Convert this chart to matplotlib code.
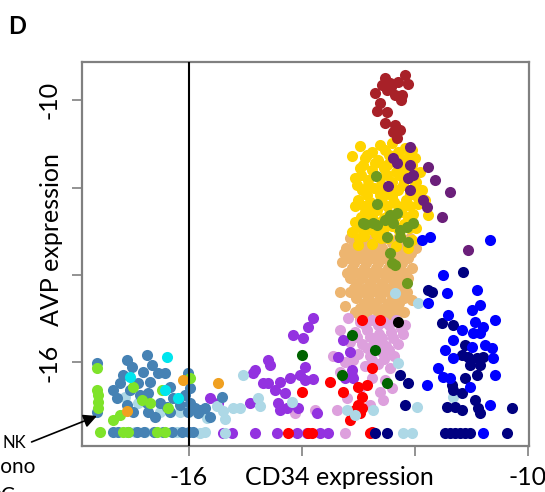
import matplotlib
matplotlib.use("Agg")
import matplotlib.pyplot as plt

plt.rcParams['font.family'] = ['Lato', 'DejaVu Sans']

# CD34 (x) and AVP (y) expression per cell, grouped by population colour
darkred_x = [-12.53, -12.44, -12.30, -12.18, -12.12, -12.50, -12.71, -12.35, -12.23, -12.62,
             -12.67, -12.50, -12.53, -12.35, -12.27, -12.32, -12.39, -12.42, -12.58, -12.25]
darkred_y = [-9.50, -9.61, -9.59, -9.43, -9.63, -9.77, -9.84, -9.89, -9.89, -10.07,
             -10.25, -10.27, -10.53, -10.57, -10.69, -10.87, -10.73, -9.70, -9.65, -10.00]

darkpurple_x = [-12.09, -12.39, -12.32, -12.09, -11.77, -12.04, -12.12, -11.65, -12.48, -12.09,
                -11.38, -11.86, -11.79, -11.52, -11.06]
darkpurple_y = [-11.07, -11.33, -11.44, -11.49, -11.53, -11.71, -11.78, -11.83, -11.97, -12.06,
                -12.10, -12.29, -12.45, -12.67, -13.43]

gold_x = [-12.62, -12.41, -12.18, -12.76, -12.53, -12.30, -12.05, -12.88, -12.65, -12.44, -12.23, -12.00,
          -12.97, -12.76, -12.55, -12.34, -12.12, -11.91,
          -13.06, -12.83, -12.62, -12.41, -12.19, -11.98,
          -12.94, -12.73, -12.51, -12.30, -12.09, -11.88,
          -13.01, -12.80, -12.58, -12.37, -12.16, -11.95,
          -12.88, -12.67, -12.46, -12.25, -12.04,
          -13.06, -12.83, -12.62, -12.41, -12.19, -11.98,
          -13.12, -12.90, -12.69, -12.48, -12.27, -12.05,
          -13.01, -12.76, -12.34, -12.12,
          -13.12, -12.97, -11.82, -11.77,
          -12.45, -12.70, -12.20, -12.60, -12.40, -12.75, -12.20, -12.55, -12.30, -12.80,
          -12.85, -12.30, -12.10,
          -12.92, -12.50, -12.05,
          -12.95, -12.72, -12.50, -12.28, -12.05,
          -13.02, -12.82, -12.20, -12.00,
          -12.85, -12.62, -12.40, -12.00,
          -13.05, -12.90, -12.50, -12.30, -12.08,
          -12.95, -12.75, -12.35, -12.12,
          -12.95, -12.55, -12.10,
          -12.98, -12.60]
gold_y = [-11.03, -10.98, -11.10, -11.19, -11.14, -11.19, -11.14, -11.33, -11.37, -11.42, -11.37, -11.33,
          -11.55, -11.60, -11.55, -11.65, -11.60, -11.65,
          -11.78, -11.83, -11.78, -11.87, -11.83, -11.87,
          -12.06, -12.01, -12.10, -12.06, -12.15, -12.06,
          -12.29, -12.33, -12.24, -12.33, -12.29, -12.38,
          -12.56, -12.51, -12.61, -12.56, -12.61,
          -12.79, -12.83, -12.79, -12.88, -12.83, -12.93,
          -13.02, -13.11, -13.06, -13.15, -13.11, -13.20,
          -13.31, -13.29, -13.34, -13.38,
          -11.28, -11.05, -12.29, -12.63,
          -11.25, -11.45, -11.50, -11.95, -12.20, -12.45, -12.45, -12.70, -12.95, -12.95,
          -11.25, -11.25, -11.25,
          -11.48, -11.48, -11.48,
          -11.72, -11.72, -11.72, -11.72, -11.72,
          -11.95, -11.95, -11.95, -11.95,
          -12.18, -12.18, -12.18, -12.18,
          -12.42, -12.42, -12.42, -12.42, -12.42,
          -12.68, -12.68, -12.68, -12.68,
          -12.92, -12.92, -12.92,
          -13.15, -13.15]

olive_x = [-12.69, -12.67, -12.88, -12.67, -12.53, -12.41, -12.32, -12.39, -12.14, -12.04, -12.27,
           -12.44, -12.92, -12.74, -12.44, -12.27, -12.50, -12.12, -12.41, -12.14, -12.35]
olive_y = [-11.74, -12.38, -12.83, -12.86, -12.74, -12.67, -12.58, -12.81, -12.90, -12.81, -13.13,
           -13.50, -12.81, -12.81, -12.63, -12.97, -13.13, -13.25, -13.73, -14.18, -13.77]

tan_x = [-13.15, -12.94, -12.73, -12.51, -12.30, -12.09,
         -13.22, -13.01, -12.80, -12.58, -12.37, -12.16, -11.98,
         -13.19, -12.97, -12.76, -12.55, -12.34, -12.12,
         -13.12, -12.90, -12.69, -12.48, -12.27, -12.05,
         -13.15, -12.94, -12.73, -12.51, -12.30, -12.12,
         -13.08, -12.87, -12.65, -12.44, -12.23,
         -13.04, -12.83, -12.62, -12.41, -12.19,
         -12.97, -12.76, -12.55, -12.34,
         -12.87, -12.65, -12.44,
         -13.33, -13.24, -12.05, -12.19, -13.29,
         -13.05, -12.84, -12.62, -12.41, -12.20,
         -13.08, -12.86, -12.65, -12.44, -12.22,
         -13.02, -12.80, -12.58, -12.37, -12.18,
         -12.90, -12.70, -12.48, -12.28,
         -13.25, -13.10, -12.90, -12.68, -12.46, -12.25, -12.06,
         -13.20, -13.00, -12.79, -12.58, -12.38, -12.16,
         -13.15, -12.95, -12.75, -12.55, -12.33, -12.14,
         -13.05, -12.85, -12.65, -12.45, -12.28,
         -12.97, -12.55]
tan_y = [-13.15, -13.15, -13.15, -13.15, -13.15, -13.15,
         -13.38, -13.38, -13.38, -13.38, -13.38, -13.38, -13.38,
         -13.61, -13.61, -13.61, -13.61, -13.61, -13.61,
         -13.84, -13.84, -13.84, -13.84, -13.84, -13.84,
         -14.07, -14.07, -14.07, -14.07, -14.07, -14.07,
         -14.30, -14.30, -14.30, -14.30, -14.30,
         -14.53, -14.53, -14.53, -14.53, -14.53,
         -14.75, -14.75, -14.75, -14.75,
         -14.94, -14.94, -14.94,
         -14.39, -14.71, -14.57, -14.85, -13.70,
         -13.26, -13.26, -13.26, -13.26, -13.26,
         -13.72, -13.72, -13.72, -13.72, -13.72,
         -14.18, -14.18, -14.18, -14.18, -14.18,
         -14.64, -14.64, -14.64, -14.64,
         -13.50, -13.50, -13.50, -13.50, -13.50, -13.50, -13.50,
         -13.95, -13.95, -13.95, -13.95, -13.95, -13.95,
         -14.40, -14.40, -14.40, -14.40, -14.40, -14.40,
         -14.85, -14.85, -14.85, -14.85, -14.85,
         -15.00, -15.00]

plum_x = [-12.97, -12.76, -12.55, -12.34, -12.18, -13.06, -12.85, -12.64, -12.42, -12.21,
          -13.15, -12.94, -12.73, -12.51, -12.30, -13.01, -12.80, -12.58, -12.37, -13.24,
          -12.88, -12.65, -12.44, -13.33, -13.12, -12.76, -12.53, -12.97, -12.62, -12.41,
          -13.20, -13.45, -13.33, -13.19, -12.57, -13.24, -14.12, -13.77, -12.80, -13.38,
          -12.88, -12.66, -12.45, -12.25, -13.02, -12.80, -12.58, -12.38, -12.85, -12.62,
          -12.45, -13.10, -12.75, -12.55]
plum_y = [-15.07, -15.03, -15.07, -15.03, -15.14, -15.30, -15.26, -15.35, -15.30, -15.35,
          -15.53, -15.58, -15.53, -15.62, -15.58, -15.81, -15.85, -15.76, -15.85, -15.99,
          -16.08, -16.03, -16.13, -16.22, -16.29, -16.35, -16.40, -16.58, -16.67, -16.58,
          -16.81, -15.85, -15.26, -14.98, -16.86, -17.61, -17.15, -17.09, -16.97, -17.09,
          -15.15, -15.15, -15.15, -15.22, -15.42, -15.42, -15.45, -15.45, -15.68, -15.68,
          -15.72, -15.95, -15.95, -15.92]

violet_x = [-13.81, -13.89, -14.16, -13.98, -13.95, -14.04, -13.95, -13.81, -14.60, -14.57,
            -14.83, -14.87, -14.69, -14.60, -14.39, -14.21, -14.48, -15.63, -15.49, -14.92,
            -14.42, -14.39, -14.27, -14.07, -14.30, -13.73, -13.27, -13.15, -13.36, -13.12,
            -13.24, -13.10,
            -15.40, -15.24, -14.83, -14.44, -14.09, -13.91, -13.68, -13.54]
violet_y = [-14.98, -15.19, -15.37, -15.44, -16.10, -16.29, -16.40, -16.38, -15.94, -16.06,
            -16.17, -16.24, -16.47, -16.47, -16.45, -16.35, -16.63, -16.81, -16.93, -16.93,
            -16.93, -17.09, -17.04, -17.04, -16.70, -17.15, -15.49, -15.76, -15.87, -16.17,
            -16.35, -16.35,
            -17.61, -17.61, -17.61, -17.61, -17.61, -17.61, -17.61, -17.61]

red_x = [-12.94, -12.62, -12.76, -14.00, -13.50, -13.01, -12.85, -12.94, -13.01, -13.06,
         -12.97, -13.15, -13.27, -12.94, -12.76, -14.25, -13.89, -13.82, -12.80]
red_y = [-15.03, -15.03, -16.13, -16.67, -16.45, -16.56, -16.51, -16.79, -16.97, -17.09,
         -17.15, -17.31, -16.67, -17.04, -17.59, -17.61, -17.61, -17.61, -17.61]

darkgreen_x = [-14.00, -13.12, -13.29, -12.50, -12.71]
darkgreen_y = [-15.83, -15.37, -16.29, -16.47, -15.71]

black_x = [-12.30]
black_y = [-15.07]

lightblue_x = [-11.95, -12.35, -12.30, -11.96, -13.20, -12.74, -13.06, -12.21, -12.05, -11.33,
               -15.04, -14.78, -14.74, -15.22, -15.10, -15.40, -15.36, -15.68, -15.50, -14.18,
               -15.81, -15.36, -17.13, -16.51, -16.16, -16.90, -16.96, -16.78, -16.21, -15.72]
lightblue_y = [-14.64, -14.41, -16.01, -17.02, -17.09, -17.09, -17.20, -17.61, -17.61, -16.79,
               -16.29, -16.81, -16.99, -17.04, -17.04, -17.11, -17.29, -17.27, -16.99, -16.90,
               -17.61, -17.61, -16.79, -17.13, -17.13, -16.93, -17.60, -17.60, -17.60, -17.60]

steel_x = [-17.63, -16.74, -17.10, -17.01, -16.65, -16.81, -16.55, -16.69, -17.22, -16.90,
           -16.34, -16.42, -16.02, -17.35, -17.04, -16.73, -17.27, -16.87, -16.28, -16.07,
           -17.10, -16.74, -16.51, -16.39, -16.16, -15.98, -15.89, -16.99, -16.73, -16.34,
           -16.02, -16.60, -17.63, -15.98, -15.84, -15.72, -15.42, -15.63, -15.81, -17.17,
           -17.35, -17.26, -17.08, -16.92, -16.80, -16.62, -16.45, -16.30, -16.12, -16.00, -15.92]
steel_y = [-16.01, -15.83, -15.94, -16.10, -16.06, -16.22, -16.24, -16.45, -16.47, -16.47,
           -16.56, -16.24, -16.24, -16.63, -16.63, -16.70, -16.81, -16.74, -16.81, -16.74,
           -16.97, -16.93, -16.93, -17.02, -16.97, -16.93, -17.04, -17.13, -17.13, -17.13,
           -17.13, -17.25, -17.13, -16.58, -17.15, -17.04, -16.79, -17.25, -17.09, -16.29,
           -17.60, -17.60, -17.60, -17.60, -17.60, -17.60, -17.60, -17.60, -17.60, -17.60, -17.60]

green_x = [-17.63, -17.63, -17.61, -17.61, -17.61, -17.58, -16.99, -16.83, -16.69, -17.35,
           -16.37, -16.48, -15.98, -17.17, -17.08, -16.57, -16.42, -17.22]
green_y = [-16.13, -16.63, -16.74, -16.90, -17.04, -17.60, -16.56, -16.86, -16.93, -17.31,
           -17.04, -16.63, -16.35, -17.60, -17.60, -17.60, -17.60, -17.20]

cyan_x = [-16.39, -17.04, -16.42, -16.19]
cyan_y = [-15.87, -16.33, -16.63, -16.81]

orange_x = [-16.11, -17.10, -15.49]
orange_y = [-16.40, -17.11, -16.47]

navy_x = [-11.15, -11.70, -11.52, -11.33, -11.17, -11.06, -10.90, -10.80, -11.03, -10.85,
          -11.12, -10.90, -11.35, -11.33, -11.17, -10.94, -11.43, -11.29, -10.88, -10.85,
          -10.28, -11.17, -11.77, -12.27, -12.12, -12.18, -11.12,
          -12.71, -12.50, -11.47, -11.38, -11.29, -11.20, -11.12, -11.03, -10.37]
navy_y = [-13.93, -14.39, -15.10, -15.14, -15.83, -15.87, -15.90, -15.87, -16.06, -16.06,
          -16.35, -16.29, -16.51, -16.63, -16.70, -16.86, -17.02, -17.02, -17.04, -17.15,
          -17.04, -17.09, -14.34, -16.29, -16.47, -16.97, -15.60,
          -17.61, -17.61, -17.61, -17.61, -17.61, -17.61, -17.61, -17.61, -17.61]

blue_x = [-11.50, -11.43, -10.90, -11.77, -11.42, -10.99, -10.85, -10.58, -10.94, -10.80,
          -11.17, -11.33, -10.97, -10.85, -10.76, -10.99, -10.64, -11.47, -11.33, -10.62,
          -11.59, -11.50, -11.38, -10.58, -11.79, -11.03, -10.67, -11.88, -11.73, -10.67, -10.80]
blue_y = [-14.00, -14.41, -14.34, -14.64, -14.91, -14.80, -14.69, -15.03, -15.07, -15.19,
          -15.26, -15.49, -15.33, -15.33, -15.60, -15.65, -15.67, -15.71, -15.90, -15.90,
          -16.13, -16.33, -16.35, -16.29, -16.51, -16.56, -16.97, -13.20, -13.13, -13.20, -17.61]

fig = plt.figure(figsize=(5.45, 4.92), dpi=100)
ax = fig.add_axes([0.1505, 0.0935, 0.82, 0.7805])

groups = [
    (tan_x, tan_y, '#EDB570'),
    (gold_x, gold_y, '#FFD400'),
    (olive_x, olive_y, '#6E9A1E'),
    (darkred_x, darkred_y, '#A82128'),
    (darkpurple_x, darkpurple_y, '#6B1F7A'),
    (plum_x, plum_y, '#DDA0DD'),
    (violet_x, violet_y, '#9332E0'),
    (red_x, red_y, '#FF0000'),
    (darkgreen_x, darkgreen_y, '#006400'),
    (lightblue_x, lightblue_y, '#ADD8E6'),
    (steel_x, steel_y, '#4682B4'),
    (green_x, green_y, '#7FE32A'),
    (cyan_x, cyan_y, '#00E5EE'),
    (orange_x, orange_y, '#F0A020'),
    (navy_x, navy_y, '#000080'),
    (blue_x, blue_y, '#0000FF'),
    (black_x, black_y, '#000000'),
]
for xs, ys, col in groups:
    ax.scatter(xs, ys, s=64, c=col, linewidths=0, zorder=2)

ax.axvline(-16, color='black', lw=1.5, zorder=3)

ax.set_xlim(-17.89, -9.98)
ax.set_ylim(-17.91, -9.13)
for sp in ax.spines.values():
    sp.set_color('#808080')
    sp.set_linewidth(1.6)

ax.set_xticks([-16, -14, -12, -10])
ax.set_xticklabels(['-16', '', '', '-10'])
ax.set_yticks([-16, -14, -12, -10])
ax.set_yticklabels(['-16', '', '', '-10'], rotation=90, va='center')
ax.tick_params(axis='both', length=7.5, width=1.2, color='#808080', labelsize=18)
ax.tick_params(axis='x', pad=7)
ax.tick_params(axis='y', pad=8)

fig.text(339 / 545, 1 - 485 / 492, 'CD34 expression', fontsize=18, ha='center', va='baseline')
fig.text(52 / 545, 1 - 240 / 492, 'AVP expression', fontsize=18, rotation=90, ha='center', va='center')
fig.text(8 / 545, 1 - 34 / 492, 'D', fontsize=17, fontweight='bold', ha='left', va='baseline')

# population labels for the arrow at the bottom left
fig.text(26 / 545, 1 - 443 / 492, 'NK', fontsize=12, ha='right', va='center')
fig.text(-19 / 545, 1 - 473 / 492, 'Mono', fontsize=15, ha='left', va='baseline')
fig.text(-15 / 545, 1 - 502 / 492, 'DC', fontsize=15, ha='left', va='baseline')
ax.annotate('', xy=(-17.58, -17.2), xytext=(29, 49), textcoords='figure pixels',
            arrowprops=dict(arrowstyle='-|>', color='black', lw=1.2, mutation_scale=20),
            annotation_clip=False)

fig.savefig('out.png', dpi=100)
